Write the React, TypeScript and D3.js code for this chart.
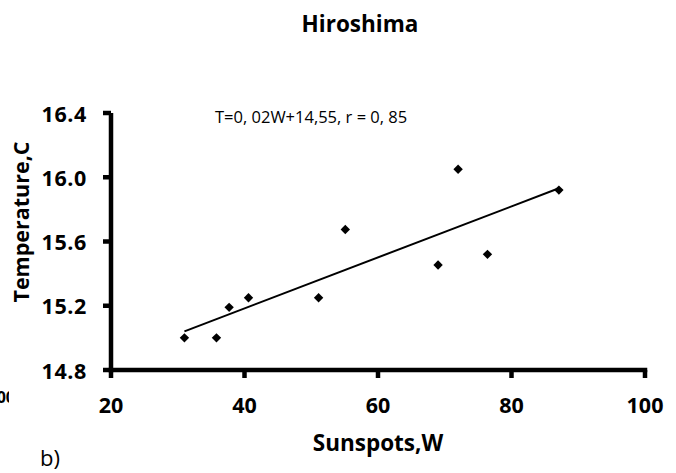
import React from "react";
import * as d3 from "d3";

const sunspots = [31.0, 35.8, 37.7, 40.6, 51.1, 55.1, 69.0, 72.0, 76.4, 87.1];
const temperature = [15.0, 15.0, 15.19, 15.25, 15.25, 15.675, 15.454, 16.05, 15.52, 15.92];
const xTicks = [20, 40, 60, 80, 100];
const yTicks = [14.8, 15.2, 15.6, 16.0, 16.4];
const title = "Hiroshima";
const equation = "T=0, 02W+14,55, r = 0, 85";
const xTitle = "Sunspots,W";
const yTitle = "Temperature,C";
const panelLabel = "b)";
const clippedNeighbourLabel = "100";

const W = 676;
const H = 473;
const FONT = "'Open Sans', 'DejaVu Sans', sans-serif";

export default function App() {
  const x = d3.scaleLinear().domain([20, 100]).range([111, 645]);
  const y = d3.scaleLinear().domain([14.8, 16.4]).range([370, 113]);

  const mx = d3.mean(sunspots) as number;
  const my = d3.mean(temperature) as number;
  const sxy = d3.sum(sunspots.map((v, i) => (v - mx) * (temperature[i] - my)));
  const sxx = d3.sum(sunspots.map((v) => (v - mx) * (v - mx)));
  const slope = sxy / sxx;
  const intercept = my - slope * mx;
  const [x0, x1] = d3.extent(sunspots) as [number, number];
  const trend = d3.line<number>().x((d) => x(d)).y((d) => y(intercept + slope * d));

  const diamond = d3.symbol().type(d3.symbolSquare).size(44)();

  const axisColor = "#000";
  const axisW = 4.5;
  const tickLen = 8;

  return (
    <svg width={W} height={H} style={{ position: "absolute", left: 0, top: 0, background: "#fff" }}>
      <defs>
        <clipPath id="leftClip">
          <rect x={0} y={380} width={9} height={40} />
        </clipPath>
      </defs>
      <rect x={0} y={0} width={W} height={H} fill="#fff" />

      <text x={360} y={32} textAnchor="middle" fontFamily={FONT} fontWeight="bold" fontSize={22.5} fill="#000">
        {title}
      </text>

      {/* y axis */}
      <line x1={x(20)} x2={x(20)} y1={y(16.4)} y2={y(14.8) + axisW / 2} stroke={axisColor} strokeWidth={axisW} />
      {yTicks.map((t) => (
        <g key={"y" + t}>
          <line x1={x(20) - tickLen} x2={x(20)} y1={y(t)} y2={y(t)} stroke={axisColor} strokeWidth={axisW} />
          <text x={87} y={y(t) + 8.5} textAnchor="end" fontFamily={FONT} fontWeight="bold" fontSize={21.5} letterSpacing={0.6} fill="#000">
            {t.toFixed(1)}
          </text>
        </g>
      ))}

      {/* x axis */}
      <line x1={x(20) - axisW / 2} x2={x(100) + axisW / 2} y1={y(14.8)} y2={y(14.8)} stroke={axisColor} strokeWidth={axisW} />
      {xTicks.map((t) => (
        <g key={"x" + t}>
          <line x1={x(t)} x2={x(t)} y1={y(14.8)} y2={y(14.8) + tickLen} stroke={axisColor} strokeWidth={axisW} />
          <text x={x(t)} y={413} textAnchor="middle" fontFamily={FONT} fontWeight="bold" fontSize={21.5} fill="#000">
            {t}
          </text>
        </g>
      ))}

      {/* trend line */}
      <path d={trend([x0, x1]) as string} fill="none" stroke="#000" strokeWidth={2} />

      {/* points */}
      {sunspots.map((s, i) => (
        <path
          key={"p" + i}
          d={diamond as string}
          transform={`translate(${x(s)},${y(temperature[i])}) rotate(45)`}
          fill="#000"
        />
      ))}

      <text x={215} y={123} fontFamily={FONT} fontSize={16.5} fill="#000">
        {equation}
      </text>

      <text
        transform={`translate(29,222) rotate(-90)`}
        textAnchor="middle"
        fontFamily={FONT}
        fontWeight="bold"
        fontSize={21.5}
        fill="#000"
      >
        {yTitle}
      </text>

      <text x={378} y={451} textAnchor="middle" fontFamily={FONT} fontWeight="bold" fontSize={22.5} fill="#000">
        {xTitle}
      </text>

      <text x={40} y={466} fontFamily={FONT} fontSize={22} fill="#000">
        {panelLabel}
      </text>

      <g clipPath="url(#leftClip)">
        <text x={15} y={403} textAnchor="end" fontFamily={FONT} fontWeight="bold" fontSize={16} fill="#000">
          {clippedNeighbourLabel}
        </text>
      </g>
    </svg>
  );
}
